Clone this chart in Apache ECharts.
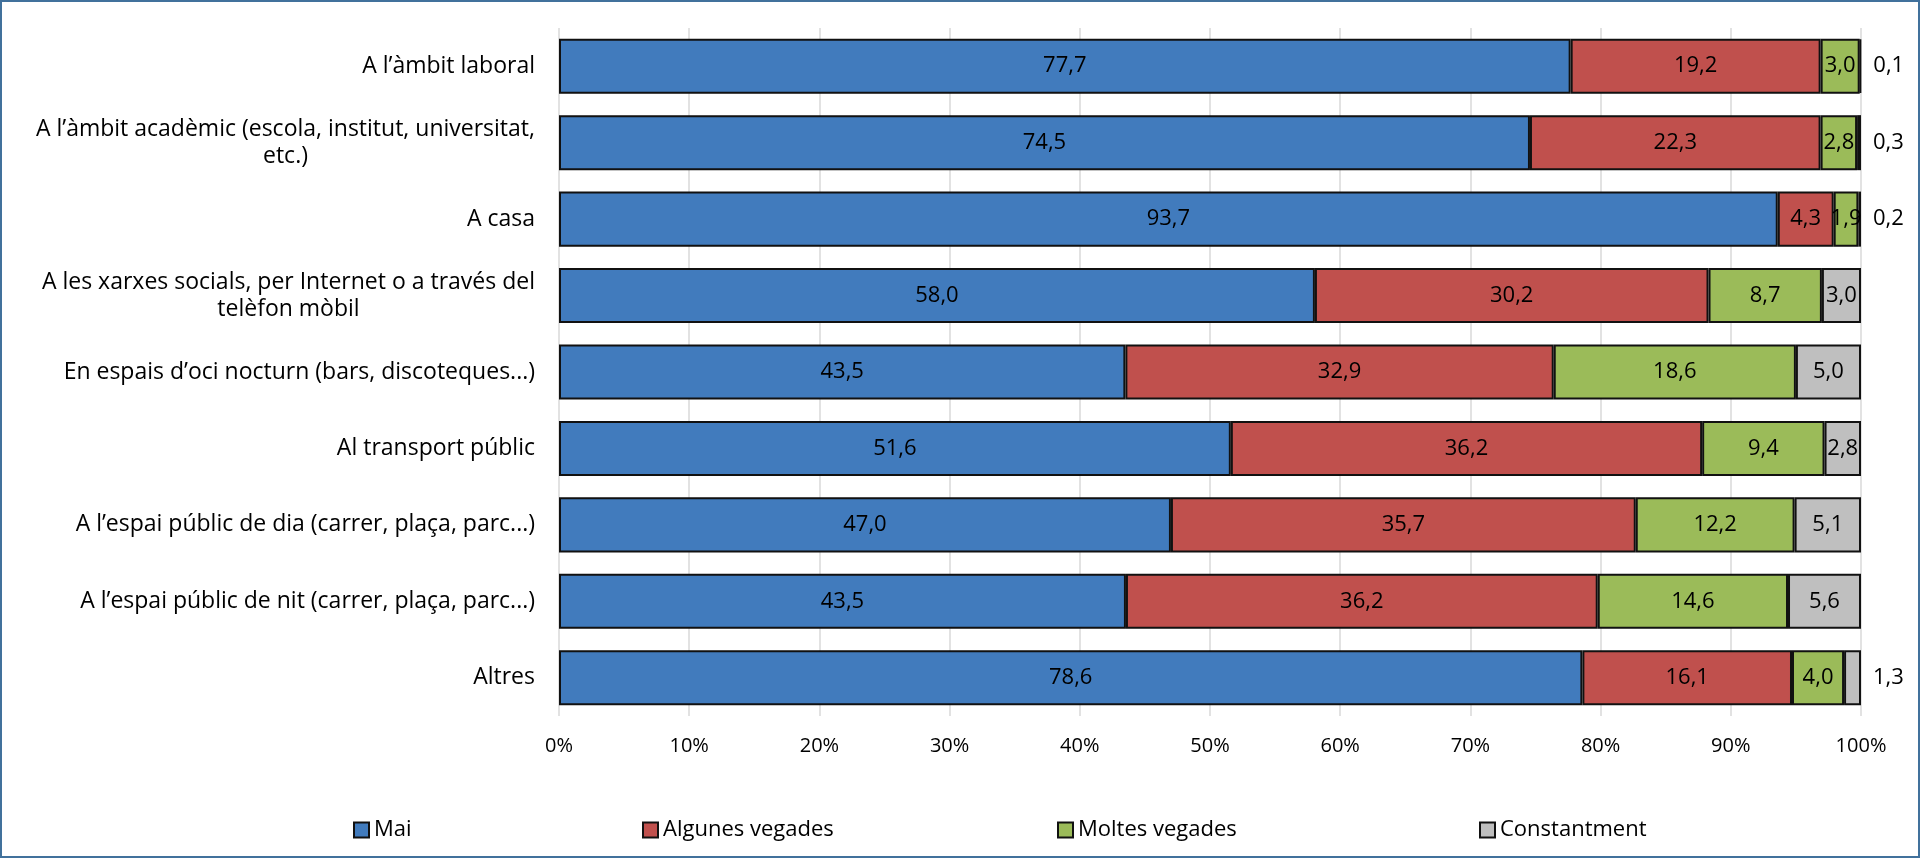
<!DOCTYPE html>
<html><head><meta charset="utf-8">
<script src="https://cdn.jsdelivr.net/npm/echarts@6/dist/echarts.min.js"></script>
<style>html,body{margin:0;padding:0;background:#fff}#c{width:1921px;height:859px}</style>
</head><body><div id="c"></div>
<script>
const categories = [
  'A l’àmbit laboral',
  'A l’àmbit acadèmic (escola, institut, universitat,\netc.)',
  'A casa',
  'A les xarxes socials, per Internet o a través del\ntelèfon mòbil',
  'En espais d’oci nocturn (bars, discoteques...)',
  'Al transport públic',
  'A l’espai públic de dia (carrer, plaça, parc...)',
  'A l’espai públic de nit (carrer, plaça, parc...)',
  'Altres'
];
const seriesNames = ['Mai', 'Algunes vegades', 'Moltes vegades', 'Constantment'];
const mai          = [77.7, 74.5, 93.7, 58.0, 43.5, 51.6, 47.0, 43.5, 78.6];
const algunes      = [19.2, 22.3, 4.3, 30.2, 32.9, 36.2, 35.7, 36.2, 16.1];
const moltes       = [3.0, 2.8, 1.9, 8.7, 18.6, 9.4, 12.2, 14.6, 4.0];
const constantment = [0.1, 0.3, 0.2, 3.0, 5.0, 2.8, 5.1, 5.6, 1.3];
const xTickLabels  = ['0%', '10%', '20%', '30%', '40%', '50%', '60%', '70%', '80%', '90%', '100%'];

const FONT = "'Open Sans', sans-serif";
const colors = ['#417BBD', '#C0504D', '#9BBB59', '#BFBFBF'];
const raw = [mai, algunes, moltes, constantment];
const totals = categories.map((_, i) => raw.reduce((s, a) => s + a[i], 0));
const fmt = v => v.toFixed(1).replace('.', ',');
const legendLeft = [353, 642, 1057, 1479];

const chart = echarts.init(document.getElementById('c'), null, {renderer: 'canvas'});
chart.setOption({
  backgroundColor: '#fff',
  animation: false,
  graphic: [{
    type: 'rect', silent: true, z: 100,
    shape: {x: 1, y: 1, width: 1918, height: 856},
    style: {fill: 'none', stroke: '#41719C', lineWidth: 2}
  }],
  grid: {left: 559, right: 60, top: 28, bottom: 143, containLabel: false},
  legend: seriesNames.map((n, i) => ({
    data: [n], left: legendLeft[i], top: 819, icon: 'rect', padding: 0,
    itemWidth: 15, itemHeight: 15, selectedMode: false,
    textStyle: {fontFamily: FONT, fontSize: 22, color: '#000'}
  })),
  xAxis: {
    type: 'value', min: 0, max: 100, interval: 10,
    axisLine: {show: false}, axisTick: {show: false},
    splitLine: {show: true, lineStyle: {color: '#D9D9D9', width: 1.5}},
    axisLabel: {
      fontFamily: FONT, fontSize: 20, color: '#000', margin: 20,
      formatter: v => xTickLabels[Math.round(v / 10)]
    }
  },
  yAxis: {
    type: 'category', inverse: true, data: categories,
    axisLine: {show: false}, axisTick: {show: false},
    axisLabel: {
      fontFamily: FONT, fontSize: 23, color: '#000', margin: 24,
      formatter: v => v.split('\n').map(l => '{a|' + l + '}').join('\n'),
      rich: {a: {align: 'center', fontFamily: FONT, fontSize: 23, color: '#000', lineHeight: 27}}
    }
  },
  series: raw.map((arr, s) => ({
    name: seriesNames[s], type: 'bar', stack: 'total', barCategoryGap: '28%',
    itemStyle: {color: colors[s], borderColor: '#111', borderWidth: 2},
    label: {
      show: true, position: 'inside', fontFamily: FONT, fontSize: 22, color: '#000',
      formatter: p => fmt(arr[p.dataIndex])
    },
    data: arr.map((v, i) => {
      const d = {value: v / totals[i] * 100};
      if (s === 3 && v < 2) d.label = {position: 'right', distance: 12};
      return d;
    })
  }))
});
</script>
</body></html>
